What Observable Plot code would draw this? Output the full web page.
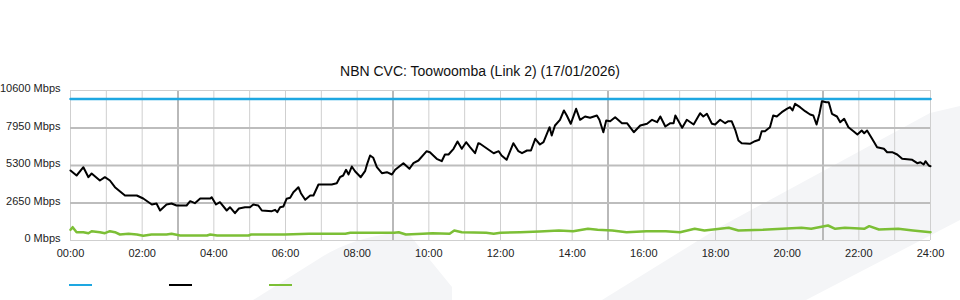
<!DOCTYPE html>
<html><head><meta charset="utf-8">
<script src="https://cdn.jsdelivr.net/npm/d3@7"></script>
<script src="https://cdn.jsdelivr.net/npm/@observablehq/plot@0.6"></script>
<style>
html,body{margin:0;padding:0;background:#fff;}
#wrap{position:relative;width:960px;height:300px;overflow:hidden;font-family:"Liberation Sans",Arial,sans-serif;}
#bg{position:absolute;left:0;top:0;}
#chart{position:absolute;left:0;top:0;}
#title{position:absolute;left:0;top:63px;width:960px;text-align:center;font-size:14px;line-height:16px;color:#111;}
.leg{position:absolute;top:284px;width:23px;height:0;border-top:2px solid;}
</style></head><body>
<div id="wrap">
<svg id="bg" width="960" height="300">
  <path d="M253,300 L317,260 Q350,238 395,233 L408,233 L452,287 L452,300 Z" fill="#f4f5f7"/>
  <path d="M602,300 L720,227 L930,113 L960,106 L960,220 L806,300 Z" fill="#f4f5f7"/>
</svg>
<div id="chart"></div>
<div id="title">NBN CVC: Toowoomba (Link 2) (17/01/2026)</div>
<div class="leg" style="left:69px;border-color:#1ea7e1"></div>
<div class="leg" style="left:169px;border-color:#000"></div>
<div class="leg" style="left:269px;border-color:#7cbf36"></div>
</div>
<script>
// ---- data ----
const capacityMbps = 10000;
const yTicks = [0, 2650, 5300, 7950, 10600];
const xLabelHours = [0,2,4,6,8,10,12,14,16,18,20,22,24];
const gridHours = d3.range(0, 25);
const majorGridHours = [3, 9, 15, 21];
const yGridMajor = [2650, 5300, 7950];
const yGridMinor = [0, 10600];

const blackHours = [0.00,0.17,0.36,0.50,0.59,0.82,0.96,1.10,1.24,1.52,1.85,2.03,2.27,2.40,2.50,2.68,2.82,2.96,3.24,3.34,3.47,3.62,3.90,3.94,4.06,4.17,4.36,4.45,4.59,4.70,4.87,5.01,5.10,5.24,5.34,5.62,5.71,5.77,5.85,5.94,6.03,6.13,6.22,6.27,6.36,6.43,6.55,6.69,6.78,6.92,7.01,7.29,7.43,7.52,7.61,7.69,7.76,7.85,7.94,8.10,8.22,8.28,8.36,8.45,8.55,8.69,8.83,8.97,9.06,9.29,9.46,9.57,9.71,9.94,10.03,10.22,10.36,10.45,10.55,10.69,10.80,10.92,11.04,11.15,11.29,11.38,11.43,11.57,11.81,11.95,12.03,12.17,12.36,12.50,12.60,12.74,12.85,12.97,13.10,13.20,13.37,13.43,13.52,13.66,13.77,13.85,13.96,14.11,14.22,14.36,14.50,14.69,14.76,14.87,14.95,15.06,15.20,15.39,15.53,15.72,15.90,16.09,16.23,16.37,16.46,16.60,16.74,16.83,16.88,17.07,17.20,17.39,17.57,17.66,17.76,17.90,17.99,18.13,18.27,18.36,18.45,18.55,18.64,18.73,18.96,19.10,19.22,19.29,19.38,19.52,19.61,19.71,19.85,19.99,20.08,20.15,20.22,20.36,20.50,20.64,20.73,20.82,20.90,20.97,21.09,21.16,21.25,21.39,21.48,21.59,21.71,21.85,21.96,22.08,22.15,22.23,22.37,22.51,22.70,22.79,22.93,23.07,23.21,23.49,23.63,23.72,23.81,23.86,23.95,24.00];
const blackMbps = [4947,4593,5180,4473,4735,4240,4473,4240,3767,3180,3180,2968,2544,2615,2120,2544,2615,2473,2473,2777,2636,2968,2968,3060,2544,2707,2120,2353,1929,2261,2353,2353,2544,2473,2120,2071,2169,2000,2353,2403,2947,3017,3413,3533,3767,3343,2876,3180,3180,3957,3957,3957,4049,4473,4593,4996,4664,5229,4897,4473,4897,5420,6007,5844,5180,4756,4827,4664,4996,5463,5067,5463,5653,6311,6240,5773,5604,6077,6077,6480,6996,6480,6947,6593,6169,6876,6834,6593,6169,6311,6007,5703,6876,6311,6169,6360,6360,7187,6784,6947,8007,7420,8127,8530,9187,8833,8247,9307,8530,8763,8671,8833,8530,7653,8480,8431,8713,8289,8289,7653,8127,8247,8530,8360,8763,8056,8289,8289,8833,7964,8530,8197,8996,8763,8954,8247,8197,8530,8289,8431,8431,7823,7067,6876,6834,7017,7116,7724,7724,8007,8833,8763,9067,9307,9420,9187,9660,9420,9137,8904,8833,8197,8954,9844,9773,9773,8954,8763,8360,8600,8007,7724,7491,7773,7583,7773,7187,6593,6480,6240,6240,6077,5773,5703,5463,5533,5371,5604,5300,5251];

const greenHours = [0.00,0.06,0.17,0.36,0.50,0.59,0.82,0.96,1.10,1.24,1.38,1.62,1.85,2.03,2.26,2.68,2.82,3.06,3.81,3.90,4.09,4.64,4.97,5.04,5.98,6.66,7.67,7.81,9.03,9.16,9.36,9.83,10.10,10.58,10.71,10.92,11.60,11.81,12.00,12.55,13.09,13.63,14.03,14.44,14.71,15.12,15.52,16.07,16.61,17.01,17.42,17.69,18.37,18.64,19.32,19.86,20.40,20.67,21.14,21.34,21.61,22.15,22.29,22.56,23.10,23.51,24.00];
const greenMbps = [756,940,587,587,516,657,587,516,657,587,424,473,424,332,424,424,473,353,353,424,353,353,353,424,424,473,473,541,541,587,424,473,516,473,707,587,541,473,541,587,636,707,657,827,756,707,587,657,657,587,827,707,897,707,756,827,897,827,1060,827,897,827,1013,777,827,707,587];

// ---- build tables ----
const black = blackHours.map((h, i) => ({h, v: blackMbps[i]}));
const green = greenHours.map((h, i) => ({h, v: greenMbps[i]}));
const capacity = [{h: 0, v: capacityMbps}, {h: 24, v: capacityMbps}];
const pad = n => String(n).padStart(2, "0");

const chart = Plot.plot({
  width: 960, height: 300,
  marginLeft: 70, marginRight: 30, marginTop: 90, marginBottom: 60,
  style: {background: "transparent", fontFamily: "Liberation Sans, Arial, sans-serif", fontSize: "11px", color: "#222"},
  x: {domain: [0, 24], axis: null},
  y: {domain: [0, 10600], axis: null},
  marks: [
    Plot.ruleX(gridHours.filter(h => !majorGridHours.includes(h)), {stroke: "#cfcfcf", strokeWidth: 1}),
    Plot.ruleX(majorGridHours, {stroke: "#b9b9b9", strokeWidth: 2}),
    Plot.ruleY(yGridMinor, {stroke: "#cfcfcf", strokeWidth: 1}),
    Plot.ruleY(yGridMajor, {stroke: "#bdbdbd", strokeWidth: 2}),
    Plot.axisY({ticks: yTicks, tickFormat: v => v + " Mbps", tickSize: 0, tickPadding: 10, dy: -2, label: null}),
    Plot.axisX({ticks: xLabelHours, tickFormat: h => pad(h) + ":00", tickSize: 0, tickPadding: 9, label: null}),
    Plot.line(capacity, {x: "h", y: "v", stroke: "#1ea7e1", strokeWidth: 2.5}),
    Plot.line(green, {x: "h", y: "v", stroke: "#7cbf36", strokeWidth: 2.5}),
    Plot.line(black, {x: "h", y: "v", stroke: "#000", strokeWidth: 2})
  ]
});
document.getElementById("chart").appendChild(chart);
</script>
</body></html>
